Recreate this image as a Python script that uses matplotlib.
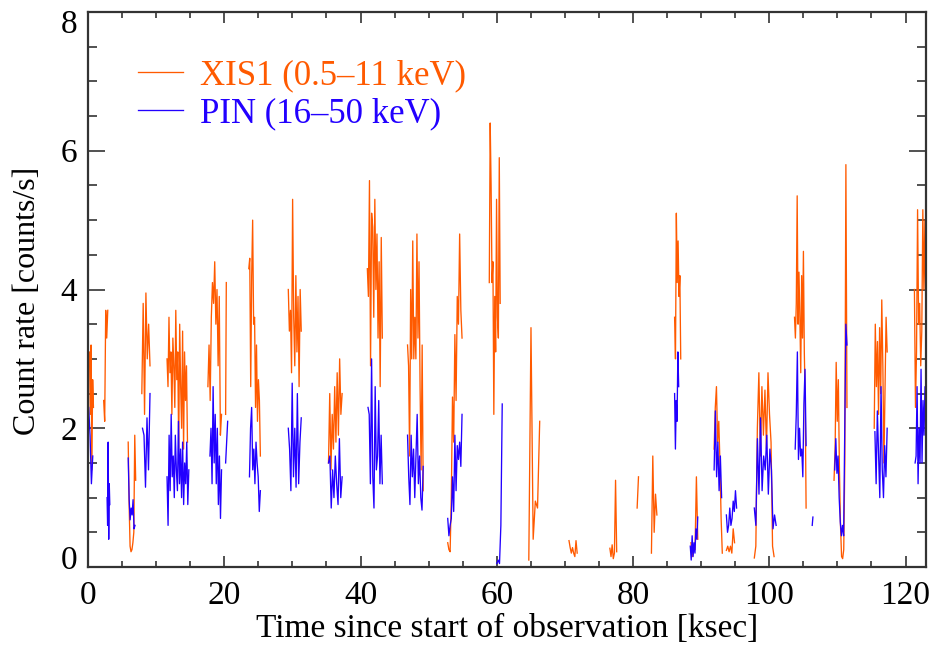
import numpy as np
import matplotlib
matplotlib.use("Agg")
import matplotlib.pyplot as plt
from matplotlib.ticker import MultipleLocator
from matplotlib.transforms import ScaledTranslation

# ---------------- data: (t_start, t_end [ksec], count rates) ----------------
xis_segments = [
    (0.1, 0.8, [2.9, 3.1, 2.2, 3.2, 1.4, 2.7, 2.3]),
    (2.3, 2.9, [2.4, 2.1, 3.7, 3.3, 3.7]),
    (5.9, 7.0, [1.8, 0.9, 0.3, 0.22, 0.25, 0.35, 0.5, 1.9, 1.25]),
    (7.9, 9.1, [2.5, 3.8, 2.2, 3.95, 3.0, 3.5, 2.9]),
    (11.6, 14.6, [3.0, 2.6, 3.6, 2.8, 3.1, 2.2, 3.3, 2.9, 2.3, 3.7, 2.7,
                  3.1, 1.7, 3.5, 2.6, 2.0, 3.4, 1.7, 3.1, 2.4, 2.9, 1.8]),
    (17.6, 19.6, [2.6, 3.2, 2.4, 3.6, 4.1, 3.8, 4.4, 3.5, 4.0, 2.9, 3.9, 1.9, 2.2]),
    (20.2, 20.3, [2.2, 4.1]),
    (23.6, 25.3, [4.3, 4.45, 2.6, 4.2, 5.0, 3.5, 3.6, 2.3, 3.2, 2.1, 2.7, 2.4, 1.6]),
    (29.4, 31.3, [4.0, 3.4, 3.7, 2.8, 5.3, 3.6, 2.9, 4.2, 3.1, 3.9, 2.6, 4.0, 3.4]),
    (35.3, 37.3, [1.5, 2.5, 1.4, 2.2, 1.7, 2.6, 1.8, 2.8, 1.9, 3.0, 2.2, 2.5]),
    (41.0, 43.2, [4.3, 3.9, 5.57, 2.9, 5.1, 4.9, 3.6, 5.3, 4.0, 4.8, 3.3, 4.4,
                  2.6, 4.75, 3.3]),
    (46.9, 49.2, [3.2, 2.9, 1.6, 4.0, 3.0, 4.7, 3.0, 3.6, 3.0, 4.8, 3.3, 4.4,
                  2.6, 1.4, 3.2, 1.1]),
    (52.8, 54.9, [0.35, 0.25, 0.22, 1.0, 2.45, 1.8, 3.35, 2.4, 3.9, 3.5, 4.8, 3.7, 3.3]),
    (58.9, 60.5, [4.1, 6.4, 5.5, 4.1, 4.4, 2.2, 3.9, 3.1, 5.3, 3.6, 3.3, 5.9, 3.8]),
    (64.7, 66.3, [0.1, 3.45, 0.4, 0.95, 0.85, 2.1]),
    (70.6, 71.8, [0.38, 0.28, 0.2, 0.28, 0.2, 0.15, 0.38, 0.2]),
    (76.6, 77.6, [0.27, 0.15, 0.32, 0.12, 0.2, 1.25, 0.22]),
    (80.6, 80.8, [0.85, 1.3]),
    (82.7, 83.5, [0.2, 1.6, 0.5, 1.05, 0.75]),
    (86.1, 87.0, [3.6, 3.0, 5.1, 4.1, 4.7, 3.9, 4.2, 3.0]),
    (88.5, 89.5, [0.35, 0.15, 0.3, 0.25, 1.3, 0.4]),
    (91.9, 93.1, [1.7, 2.3, 2.6, 1.8, 2.1, 1.5, 0.7, 0.2]),
    (93.7, 94.9, [0.24, 0.3, 0.22, 0.3, 0.2, 0.55, 0.35]),
    (97.8, 100.7, [0.13, 0.3, 2.0, 2.8, 1.6, 2.6, 1.9, 2.55, 1.7, 2.8, 2.2, 1.8, 0.3, 0.15]),
    (103.7, 105.4, [3.6, 3.3, 3.8, 5.35, 3.5, 4.25, 3.6, 2.8, 4.2, 3.3, 4.55, 3.1, 2.4, 0.85]),
    (109.5, 111.4, [1.25, 1.7, 2.95, 2.1, 2.7, 1.4, 0.6, 0.15, 0.12, 0.25, 1.5, 5.8, 2.3]),
    (115.4, 117.3, [2.0, 3.5, 2.6, 3.25, 2.2, 3.45, 2.5, 3.85, 2.9, 1.5, 2.5, 3.6, 3.1]),
    (121.3, 123.0, [4.0, 2.3, 3.1, 5.15, 3.5, 3.8, 2.9, 3.4, 5.15, 4.0, 5.0, 3.4]),
]

pin_segments = [
    (0.1, 0.7, [2.3, 1.9, 1.2, 1.6]),
    (2.8, 3.2, [1.0, 0.6, 1.8, 0.4, 1.2, 0.9]),
    (5.9, 6.9, [1.57, 0.97, 0.68, 0.85, 0.75, 0.97, 0.55, 0.6]),
    (8.0, 9.1, [2.0, 1.9, 1.15, 2.15, 1.4, 2.5]),
    (11.6, 14.8, [1.3, 0.6, 1.9, 1.1, 2.2, 1.3, 1.6, 1.0, 1.9, 1.4, 1.1, 2.1,
                  1.2, 1.7, 1.0, 1.8, 0.9, 1.5, 1.2, 1.8, 0.9, 1.4]),
    (17.9, 19.6, [1.6, 2.0, 1.2, 2.6, 1.5, 2.2, 1.2, 2.0, 0.9, 1.6, 0.7, 1.4]),
    (20.2, 20.5, [1.5, 2.1]),
    (23.7, 25.3, [1.3, 2.0, 2.3, 1.4, 1.7, 1.2, 1.8, 1.5, 1.3, 0.8, 1.1]),
    (29.4, 31.3, [2.0, 1.7, 1.1, 2.65, 1.3, 2.0, 1.15, 2.5, 1.2, 1.8, 2.15]),
    (35.3, 37.3, [1.5, 1.6, 0.85, 1.4, 1.0, 1.6, 1.2, 0.9, 1.85, 1.0, 1.3]),
    (41.1, 43.2, [2.3, 2.2, 1.2, 3.0, 1.3, 0.85, 2.6, 1.4, 1.6, 2.4, 1.2, 1.9, 1.2]),
    (46.9, 49.2, [1.9, 1.3, 0.9, 1.9, 1.3, 1.7, 1.0, 1.6, 2.2, 1.2, 1.6, 1.0, 0.82, 1.45]),
    (52.8, 54.9, [0.7, 0.45, 0.6, 0.7, 1.3, 0.8, 1.9, 1.1, 1.75, 1.55, 1.8, 1.45, 2.2]),
    (60.0, 60.8, [0.05, 0.1, 0.05, 0.6, 2.35]),
    (86.1, 86.7, [2.5, 1.7, 2.4, 2.1, 3.1, 2.6]),
    (88.4, 89.5, [0.3, 0.1, 0.45, 0.15, 0.35, 0.2, 0.55, 0.4, 0.72]),
    (91.9, 93.0, [1.4, 2.25, 1.3, 1.8, 1.1, 1.6, 1.0]),
    (93.7, 95.2, [0.75, 0.5, 0.6, 0.85, 0.6, 0.7, 0.95, 0.8, 1.1, 0.85]),
    (97.8, 101.0, [0.85, 0.6, 1.85, 1.05, 2.15, 1.1, 1.6, 1.4, 1.9, 1.05, 1.7, 1.4,
                   0.55, 0.75, 0.6]),
    (103.8, 105.4, [1.7, 2.2, 3.1, 1.55, 2.0, 1.6, 1.7, 1.3, 2.35, 2.85, 1.75]),
    (106.3, 106.4, [0.6, 0.72]),
    (109.6, 111.4, [1.4, 1.85, 1.35, 1.6, 1.0, 0.65, 0.45, 0.6, 0.45, 2.0, 3.5, 3.2]),
    (115.5, 117.3, [1.95, 1.2, 2.25, 1.6, 1.0, 2.6, 1.4, 1.0, 1.75, 1.3, 2.0]),
    (121.4, 123.0, [1.5, 1.6, 2.6, 1.2, 2.0, 1.5, 2.85, 1.5, 2.4, 1.9, 2.6, 2.0]),
]

xis_label = "XIS1 (0.5\u201311 keV)"
pin_label = "PIN (16\u201350 keV)"
x_label = "Time since start of observation [ksec]"
y_label = "Count rate [counts/s]"

XIS_COLOR = "#ff5a00"
PIN_COLOR = "#2200ff"


def build(segments):
    ts, vs = [], []
    for t0, t1, vals in segments:
        ts.append(np.linspace(t0, t1, len(vals)))
        vs.append(np.asarray(vals, dtype=float))
        ts.append([np.nan])
        vs.append([np.nan])
    return np.concatenate(ts), np.concatenate(vs)


plt.rcParams["font.family"] = ["Liberation Serif", "DejaVu Serif"]

fig = plt.figure(figsize=(9.34, 6.51), dpi=100)
ax = fig.add_axes([88 / 934, 1 - 567 / 651, (926 - 88) / 934, (567 - 12) / 651])

tx, vx = build(xis_segments)
tp, vp = build(pin_segments)
lx, = ax.plot(tx, vx, color=XIS_COLOR, lw=0.95, label=xis_label)
lp, = ax.plot(tp, vp, color=PIN_COLOR, lw=0.95, label=pin_label)

ax.set_xlim(0, 123)
ax.set_ylim(0, 8)
ax.xaxis.set_major_locator(MultipleLocator(20))
ax.xaxis.set_minor_locator(MultipleLocator(5))
ax.yaxis.set_major_locator(MultipleLocator(2))
ax.yaxis.set_minor_locator(MultipleLocator(0.5))

ax.tick_params(which="both", direction="in", top=True, right=True,
               labelsize=24, color="#333333")
ax.tick_params(axis="x", which="major", length=8, width=1.2, pad=10)
ax.tick_params(axis="x", which="minor", length=4, width=1.2)
ax.tick_params(axis="y", which="major", length=12.5, width=1.2, pad=8)
ax.tick_params(axis="y", which="minor", length=6.5, width=1.2)
for sp in ax.spines.values():
    sp.set_linewidth(1.6)
    sp.set_color("#333333")

ax.set_xlabel(x_label, fontsize=24, labelpad=1.5)
ax.set_ylabel(y_label, fontsize=23)
ax.yaxis.set_label_coords(-0.055, 0.48)

# IDL-style placement of the end labels on the y axis
fig.canvas.draw()
for lab in ax.get_yticklabels():
    if lab.get_text() == "0":
        lab.set_transform(lab.get_transform() + ScaledTranslation(0, 10 / 100, fig.dpi_scale_trans))
    elif lab.get_text() == "8":
        lab.set_transform(lab.get_transform() + ScaledTranslation(0, -9 / 100, fig.dpi_scale_trans))

leg = ax.legend(handles=[lx, lp], loc="upper left",
                bbox_to_anchor=(50 / 838, 0.915), frameon=False,
                fontsize=25, handlelength=1.3, handletextpad=0.5,
                borderpad=0, borderaxespad=0, labelspacing=0.15,
                labelcolor="linecolor")

fig.savefig("out.png", dpi=100)
